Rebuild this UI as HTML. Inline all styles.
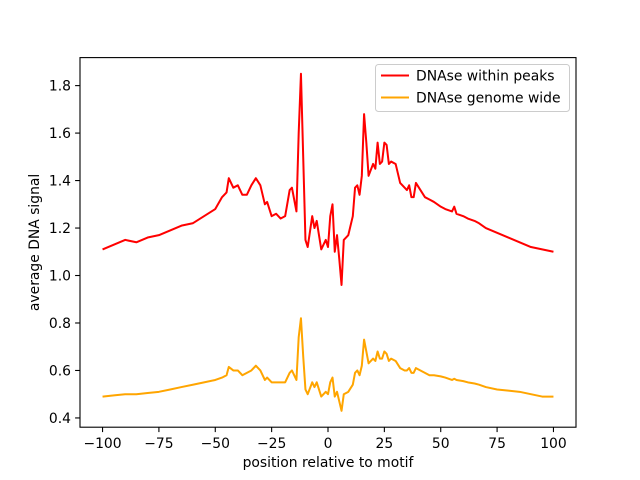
<!DOCTYPE html>
<html><head><meta charset="utf-8"><style>
body{margin:0;background:#fff}
svg{display:block;font-family:"DejaVu Sans","Liberation Sans",sans-serif}
</style></head><body>
<svg id="chart" width="640" height="480" viewBox="0 0 640 480"></svg>
<script>
const xs=[-100,-95,-90,-85,-80,-75,-70,-65,-60,-55,-50,-47,-45,-44,-42,-40,-38,-36,-34,-32,-30,-28,-27,-25,-23,-21,-19,-17,-16,-14,-13,-12,-11,-10,-9,-7,-6,-5,-3,-1,0,1,2,3,4,5,6,7,9,11,12,13,14,15,16,17,18,20,21,22,23,24,25,26,27,28,30,32,34,35,36,37,38,39,41,43,45,47,50,52,55,56,57,60,62,65,67,70,75,80,85,90,95,100];
const peaks=[1.11,1.13,1.15,1.14,1.16,1.17,1.19,1.21,1.22,1.25,1.28,1.33,1.35,1.41,1.37,1.38,1.34,1.34,1.38,1.41,1.38,1.30,1.31,1.25,1.26,1.24,1.25,1.36,1.37,1.27,1.6,1.85,1.5,1.15,1.12,1.25,1.2,1.23,1.11,1.15,1.12,1.25,1.3,1.1,1.17,1.07,0.96,1.15,1.17,1.25,1.37,1.38,1.34,1.42,1.68,1.56,1.42,1.47,1.45,1.56,1.47,1.48,1.56,1.55,1.47,1.48,1.47,1.39,1.37,1.36,1.38,1.33,1.33,1.39,1.36,1.33,1.32,1.31,1.29,1.28,1.27,1.29,1.26,1.25,1.24,1.23,1.22,1.20,1.18,1.16,1.14,1.12,1.11,1.10];
const genome=[0.49,0.495,0.50,0.50,0.505,0.51,0.52,0.53,0.54,0.55,0.56,0.57,0.58,0.615,0.60,0.60,0.58,0.59,0.60,0.62,0.60,0.56,0.57,0.55,0.55,0.55,0.55,0.59,0.60,0.56,0.74,0.82,0.66,0.52,0.50,0.55,0.53,0.55,0.49,0.51,0.50,0.55,0.57,0.49,0.51,0.47,0.43,0.50,0.51,0.54,0.59,0.60,0.58,0.62,0.73,0.68,0.63,0.65,0.64,0.68,0.65,0.65,0.68,0.67,0.64,0.65,0.64,0.61,0.60,0.60,0.61,0.59,0.59,0.61,0.60,0.59,0.58,0.58,0.575,0.57,0.56,0.565,0.56,0.555,0.55,0.545,0.54,0.53,0.52,0.515,0.51,0.50,0.49,0.49];
const xTicks=[-100,-75,-50,-25,0,25,50,75,100];
const yTicks=[0.4,0.6,0.8,1.0,1.2,1.4,1.6,1.8];
const L=80,R=576,T=57.6,B=427.2,X0=-110,X1=110,Y0=0.361,Y1=1.918;
const FS=13.9;
const sx=v=>L+(v-X0)/(X1-X0)*(R-L);
const sy=v=>B-(v-Y0)/(Y1-Y0)*(B-T);
const svg=document.getElementById('chart');
const NS='http://www.w3.org/2000/svg';
function mk(t,a,p){const e=document.createElementNS(NS,t);for(const k in a)e.setAttribute(k,a[k]);(p||svg).appendChild(e);return e;}
function line(arr,color,name){
  const p=mk('polyline',{points:xs.map((x,i)=>sx(x).toFixed(2)+','+sy(arr[i]).toFixed(2)).join(' '),fill:'none',stroke:color,'stroke-width':2,'stroke-linejoin':'round'});
  
  
}
line(peaks,'#ff0000','series-dnase-within-peaks');
line(genome,'#ffa500','series-dnase-genome-wide');
const frame=mk('rect',{x:L,y:T,width:R-L,height:B-T,fill:'none',stroke:'#000','stroke-width':1.1});


xTicks.forEach(v=>{
  mk('line',{x1:sx(v),x2:sx(v),y1:B,y2:B+4.9,stroke:'#000','stroke-width':1.1});
  const t=mk('text',{x:sx(v),y:B+21,'text-anchor':'middle','font-size':FS});
  t.textContent=String(v).replace('-','\u2212');
  
  
});
yTicks.forEach(v=>{
  mk('line',{x1:L,x2:L-4.9,y1:sy(v),y2:sy(v),stroke:'#000','stroke-width':1.1});
  const t=mk('text',{x:L-9,y:sy(v)+5,'text-anchor':'end','font-size':FS});
  t.textContent=v.toFixed(1);
  
  
});
const xt=mk('text',{x:(L+R)/2,y:467,'text-anchor':'middle','font-size':FS});
xt.textContent='position relative to motif';


const yt=mk('text',{x:0,y:0,'text-anchor':'middle','font-size':FS,transform:'translate(39,'+((T+B)/2)+') rotate(-90)'});
yt.textContent='average DNA signal';


const lg=mk('g',{});


mk('rect',{x:375.5,y:64.5,width:194,height:47,rx:3,fill:'#fff','fill-opacity':0.8,stroke:'#ccc','stroke-width':1},lg);
[['DNAse within peaks','#ff0000',75.5],['DNAse genome wide','#ffa500',97.5]].forEach(([lab,c,y])=>{
  mk('line',{x1:381,x2:409,y1:y,y2:y,stroke:c,'stroke-width':2},lg);
  const t=mk('text',{x:416,y:y+5,'font-size':FS},lg);
  t.textContent=lab;
  
  
});
</script>
</body></html>
